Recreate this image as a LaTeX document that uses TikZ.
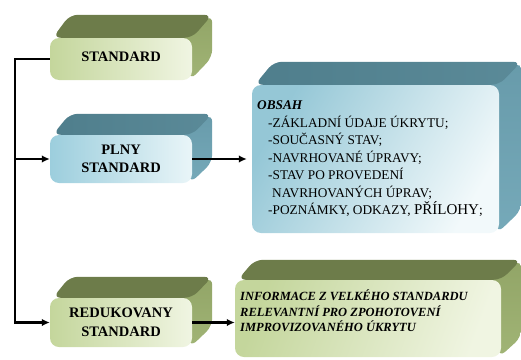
\documentclass[tikz,border=0pt]{standalone}
\usepackage{fontspec}
\setmainfont{Liberation Serif}
\usepackage{tikz}
\usetikzlibrary{arrows.meta,backgrounds}

\definecolor{olivetop}{HTML}{6D7C4A}
\definecolor{oliveside}{HTML}{98AC6C}
\definecolor{olivelight}{HTML}{C4D69C}
\definecolor{olivepale}{HTML}{F0F5E2}
\definecolor{tealtop}{HTML}{4F7E8C}
\definecolor{tealside}{HTML}{6CA0B0}
\definecolor{teallight}{HTML}{9CCEDD}
\definecolor{tealpale}{HTML}{E9F5F8}

\tikzset{
  celo/.style={rounded corners=9pt, inner sep=0pt, align=center,
    font=\fontsize{14.5}{18.5}\selectfont\bfseries},
  zelena/.style={celo, left color=olivelight, right color=olivepale},
  modra/.style={celo, left color=teallight, right color=tealpale},
  zelenavrch/.style={fill=olivetop},
  zelenabok/.style={top color=oliveside!85!olivetop, bottom color=oliveside!80!olivelight},
  modravrch/.style={left color=tealtop, right color=tealtop!85!teallight},
  modrabok/.style={top color=tealside!85!tealtop, bottom color=tealside!80!teallight},
  vonal/.style={line width=2.2pt},
  nyil/.style={-{Latex[length=8pt,width=7.5pt]}},
}

% bocni a horni stena hranolu: uzel, dx, dy, vrch, bok
\newcommand{\hranol}[5]{%
  \path[#5, rounded corners=8pt] ([xshift=-12pt]#1.north east)
    -- ([shift={(#2,#3)}]#1.north east) -- ([shift={(#2,#3)}]#1.south east)
    -- ([xshift=-2pt]#1.south east) -- cycle;
  \path[#4, rounded corners=8pt] ([xshift=3pt]#1.north west)
    -- ([shift={(#2,#3)}]#1.north west) -- ([shift={(#2,#3)}]#1.north east)
    -- (#1.north east) -- cycle;
}

\begin{document}
\begin{tikzpicture}[x=1pt,y=-1pt]
\useasboundingbox (0,0) rectangle (521,359);

% predni steny
\node[zelena, minimum width=142pt, minimum height=42pt] (std) at (121,59)
  {\raisebox{5pt}{STANDARD}};
\node[modra, minimum width=142pt, minimum height=48pt] (plny) at (121,159)
  {PLNY\\STANDARD};
\node[zelena, minimum width=142pt, minimum height=49pt] (red) at (121,322.5)
  {REDUKOVANY\\STANDARD};
\node[modra, minimum width=247pt, minimum height=148pt,
  left color=teallight!85!tealside, right color=tealpale!60!white,
  shading angle=60] (obsah) at (375.5,159) {};
\node[zelena, minimum width=266pt, minimum height=77pt,
  left color=olivelight, right color=olivepale, shading angle=70]
  (info) at (368,318.5) {};

% texty
\node[anchor=north west, inner sep=0pt, align=left,
  font=\fontsize{13.3}{17.5}\selectfont] (obsahtxt) at (257,100.5)
  {\textbf{\textit{OBSAH}}\\
   \hspace*{11pt}-ZÁKLADNÍ ÚDAJE ÚKRYTU;\\
   \hspace*{11pt}-SOUČASNÝ STAV;\\
   \hspace*{11pt}-NAVRHOVANÉ ÚPRAVY;\\
   \hspace*{11pt}-STAV PO PROVEDENÍ\\
   \hspace*{15pt}NAVRHOVANÝCH ÚPRAV;\\
   \hspace*{11pt}-POZNÁMKY, ODKAZY, {\fontsize{15}{17.5}\selectfont PŘÍLOHY};};
\node[anchor=north west, inner sep=0pt, align=left,
  font=\fontsize{12.5}{15.5}\selectfont\bfseries\itshape] (infotxt) at (240,290)
  {INFORMACE Z VELKÉHO STANDARDU\\
   RELEVANTNÍ PRO ZPOHOTOVENÍ\\
   IMPROVIZOVANÉHO ÚKRYTU};

% hranoly
\begin{pgfonlayer}{background}
  \hranol{std}{20}{-23}{zelenavrch}{zelenabok}
  \hranol{plny}{20}{-21}{modravrch}{modrabok}
  \hranol{red}{20}{-21}{zelenavrch}{zelenabok}
  \hranol{obsah}{22}{-23}{modravrch}{modrabok}
  \hranol{info}{20}{-20}{zelenavrch}{zelenabok}
\end{pgfonlayer}

% spojnice
\coordinate (elag) at ([xshift=-35pt]std.west);
\draw[vonal,nyil] (std.west) -- (elag) |- (red.west);
\draw[vonal,nyil] (elag |- plny.west) -- (plny.west);
\draw[vonal,nyil] (plny.east) -- ([xshift=-5pt]plny.east -| obsah.west);
\draw[vonal,nyil] (red.east) -- (red.east -| info.west);

\end{tikzpicture}
\end{document}
